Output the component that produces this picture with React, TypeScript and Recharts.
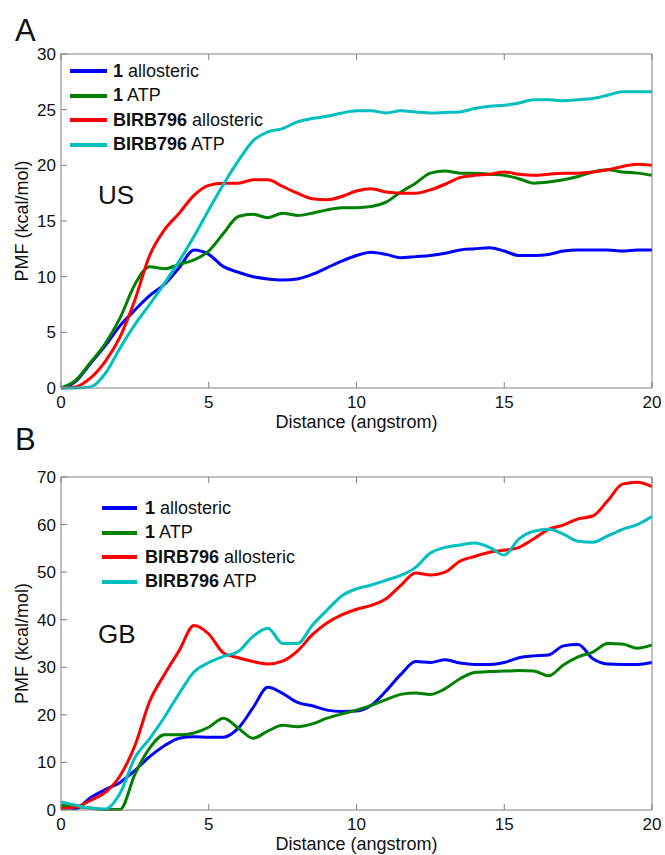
import React from 'react';
import { LineChart, Line, XAxis, YAxis, Legend, Label } from 'recharts';

// ---------- data ----------
const distance = [0, 0.5, 1, 1.5, 2, 2.5, 3, 3.5, 4, 4.5, 5, 5.5, 6, 6.5, 7, 7.5, 8, 8.5, 9, 9.5, 10, 10.5, 11, 11.5, 12, 12.5, 13, 13.5, 14, 14.5, 15, 15.5, 16, 16.5, 17, 17.5, 18, 18.5, 19, 19.5, 20];

// Panel A (US)
const usAllo1 = [0, 0.6, 2.2, 3.8, 5.6, 7.0, 8.3, 9.3, 10.8, 12.4, 12.0, 10.9, 10.4, 10.0, 9.8, 9.7, 9.8, 10.2, 10.8, 11.4, 11.9, 12.2, 12.0, 11.7, 11.8, 11.9, 12.1, 12.4, 12.5, 12.6, 12.3, 11.9, 11.9, 12.0, 12.3, 12.4, 12.4, 12.4, 12.3, 12.4, 12.4];
const usAtp1 = [0, 0.7, 2.3, 4.0, 6.3, 9.3, 10.9, 10.7, 11.1, 11.5, 12.3, 13.9, 15.4, 15.6, 15.3, 15.7, 15.5, 15.7, 16.0, 16.2, 16.2, 16.3, 16.7, 17.6, 18.4, 19.3, 19.5, 19.3, 19.3, 19.2, 19.1, 18.8, 18.4, 18.5, 18.7, 19.0, 19.4, 19.6, 19.4, 19.3, 19.1];
const usAlloBirb = [0, 0.1, 0.9, 2.4, 4.6, 7.9, 11.9, 14.2, 15.7, 17.3, 18.2, 18.4, 18.4, 18.7, 18.7, 18.1, 17.5, 17.0, 16.9, 17.2, 17.7, 17.9, 17.6, 17.5, 17.5, 17.8, 18.3, 18.9, 19.1, 19.2, 19.4, 19.2, 19.1, 19.2, 19.3, 19.3, 19.4, 19.6, 19.9, 20.1, 20.0];
const usAtpBirb = [0, 0, 0.1, 1.3, 3.6, 5.7, 7.5, 9.4, 11.4, 13.6, 16.0, 18.3, 20.4, 22.2, 23.0, 23.3, 23.9, 24.2, 24.4, 24.7, 24.9, 24.9, 24.7, 24.9, 24.8, 24.7, 24.75, 24.8, 25.1, 25.3, 25.4, 25.6, 25.9, 25.9, 25.8, 25.9, 26.0, 26.3, 26.6, 26.6, 26.6];

// Panel B (GB)
const gbAllo1 = [0.5, 0.3, 2.6, 4.3, 5.8, 8.3, 11.2, 13.5, 15.1, 15.4, 15.3, 15.3, 17.2, 21.5, 25.8, 24.5, 22.6, 21.9, 21.0, 20.7, 20.8, 22.0, 25.0, 28.5, 31.2, 31.0, 31.6, 30.9, 30.6, 30.6, 31.0, 32.0, 32.4, 32.6, 34.5, 34.8, 31.8, 30.7, 30.6, 30.6, 31.0];
const gbAtp1 = [1.0, 0.7, 0.4, 0.1, 0.1, 7.5, 13.0, 15.8, 15.8, 16.2, 17.4, 19.3, 17.2, 15.1, 16.6, 17.8, 17.5, 18.1, 19.3, 20.2, 21.0, 22.0, 23.2, 24.3, 24.6, 24.3, 25.5, 27.6, 28.9, 29.1, 29.2, 29.3, 29.2, 28.2, 30.5, 32.2, 33.2, 35.0, 34.9, 34.0, 34.7];
const gbAlloBirb = [0.3, 0.6, 2.0, 3.7, 7.2, 13.5, 22.8, 28.5, 33.5, 38.8, 37.0, 33.0, 32.0, 31.2, 30.7, 31.3, 33.4, 36.8, 39.3, 41.0, 42.2, 43.0, 44.4, 47.2, 49.8, 49.4, 50.0, 52.3, 53.3, 54.2, 54.6, 55.2, 57.0, 59.0, 59.9, 61.2, 61.8, 65.0, 68.5, 68.9, 68.0];
const gbAtpBirb = [1.7, 1.0, 0.4, 0.2, 3.5, 11.0, 15.0, 19.5, 24.5, 29.0, 31.0, 32.3, 33.3, 36.5, 38.2, 35.0, 35.0, 38.8, 42.0, 45.0, 46.5, 47.3, 48.3, 49.3, 51.0, 54.0, 55.2, 55.7, 56.1, 55.2, 53.6, 57.0, 58.6, 59.0, 58.0, 56.5, 56.3, 57.6, 59.0, 60.0, 61.7];

const X_TICKS = [0, 5, 10, 15, 20];
const US_TICKS = [0, 5, 10, 15, 20, 25, 30];
const GB_TICKS = [0, 10, 20, 30, 40, 50, 60, 70];

const SERIES = [
  { key: 'allo1', bold: '1', rest: 'allosteric', color: '#0000ff' },
  { key: 'atp1', bold: '1', rest: 'ATP', color: '#008000' },
  { key: 'alloBirb', bold: 'BIRB796', rest: 'allosteric', color: '#ff0000' },
  { key: 'atpBirb', bold: 'BIRB796', rest: 'ATP', color: '#00bfbf' },
];

const usData = distance.map((d, i) => ({ d, allo1: usAllo1[i], atp1: usAtp1[i], alloBirb: usAlloBirb[i], atpBirb: usAtpBirb[i] }));
const gbData = distance.map((d, i) => ({ d, allo1: gbAllo1[i], atp1: gbAtp1[i], alloBirb: gbAlloBirb[i], atpBirb: gbAtpBirb[i] }));

// ---------- styling ----------
const FONT = '"Liberation Sans", Arial, Helvetica, sans-serif';
const AXIS = '#808080';
const TICK_LINE = { stroke: AXIS, strokeWidth: 1 };

const BottomTick = (p: any) => (
  <text x={p.x} y={p.y + 16} textAnchor="middle" fontSize={17} fontFamily={FONT} fill="#111">{p.payload.value}</text>
);
const LeftTick = (p: any) => (
  <text x={p.x} y={p.y + 6} textAnchor="end" fontSize={17} fontFamily={FONT} fill="#111">{p.payload.value}</text>
);
const NoTick = () => <g />;

const XTitle = (p: any) => {
  const vb = p.viewBox;
  return (
    <text x={vb.x + vb.width / 2} y={vb.y + 40} textAnchor="middle" fontSize={18} fontFamily={FONT} fill="#111">Distance (angstrom)</text>
  );
};
const YTitle = (p: any) => {
  const vb = p.viewBox;
  const cx = 28;
  const cy = vb.y + vb.height / 2;
  return (
    <text x={cx} y={cy} transform={`rotate(-90 ${cx} ${cy})`} textAnchor="middle" fontSize={18} fontFamily={FONT} fill="#111">PMF (kcal/mol)</text>
  );
};

const makeLegend = (lineW: number, gap: number) => () => (
  <div style={{ fontFamily: FONT, fontSize: 18, color: '#111' }}>
    {SERIES.map((s) => (
      <div key={s.key} style={{ display: 'flex', alignItems: 'center', height: 24.5, whiteSpace: 'nowrap' }}>
        <div style={{ width: lineW, height: 4, background: s.color, marginRight: gap }} />
        <span><b>{s.bold}</b> {s.rest}</span>
      </div>
    ))}
  </div>
);

type PanelProps = {
  data: any[];
  yMax: number;
  yTicks: number[];
  height: number;
  margin: { top: number; right: number; bottom: number; left: number };
  legendLeft: number;
  legendTop: number;
  lineW: number;
  gap: number;
};

function Panel({ data, yMax, yTicks, height, margin, legendLeft, legendTop, lineW, gap }: PanelProps) {
  return (
    <LineChart width={665} height={height} data={data} margin={margin}>
      <XAxis dataKey="d" type="number" domain={[0, 20]} ticks={X_TICKS} tick={BottomTick} tickLine={TICK_LINE} tickSize={-6} tickMargin={10} height={30} stroke={AXIS} interval={0}>
        <Label content={XTitle} />
      </XAxis>
      <XAxis xAxisId="top" orientation="top" dataKey="d" type="number" domain={[0, 20]} ticks={X_TICKS} tick={NoTick} tickLine={TICK_LINE} tickSize={-6} tickMargin={0} height={1} stroke={AXIS} interval={0} />
      <YAxis type="number" domain={[0, yMax]} ticks={yTicks} tick={LeftTick} tickLine={TICK_LINE} tickSize={-6} tickMargin={11} width={61} stroke={AXIS} interval={0}>
        <Label content={YTitle} />
      </YAxis>
      <YAxis yAxisId="right" orientation="right" type="number" domain={[0, yMax]} ticks={yTicks} tick={NoTick} tickLine={TICK_LINE} tickSize={-6} tickMargin={0} width={1} stroke={AXIS} interval={0} />
      <Legend layout="vertical" align="center" verticalAlign="middle" content={makeLegend(lineW, gap)} wrapperStyle={{ left: legendLeft, top: legendTop, width: 'auto' }} />
      {SERIES.map((s) => (
        <Line key={s.key} dataKey={s.key} name={`${s.bold} ${s.rest}`} type="monotone" stroke={s.color} strokeWidth={3} dot={false} activeDot={false} isAnimationActive={false} />
      ))}
    </LineChart>
  );
}

const bigLabel: React.CSSProperties = { position: 'absolute', fontFamily: FONT, color: '#111', lineHeight: 1, whiteSpace: 'nowrap' };

export default function App() {
  return (
    <div style={{ position: 'absolute', left: 0, top: 0, width: 665, height: 855, background: '#fff' }}>
      <div style={{ position: 'absolute', left: 0, top: 0 }}>
        <Panel data={usData} yMax={30} yTicks={US_TICKS} height={432} margin={{ top: 53, right: 12, bottom: 14, left: 0 }} legendLeft={70} legendTop={59} lineW={37} gap={6} />
      </div>
      <div style={{ position: 'absolute', left: 0, top: 432 }}>
        <Panel data={gbData} yMax={70} yTicks={GB_TICKS} height={423} margin={{ top: 44, right: 12, bottom: 15, left: 0 }} legendLeft={102} legendTop={64} lineW={35} gap={8} />
      </div>
      <div style={{ ...bigLabel, left: 15, top: 15, fontSize: 31 }}>A</div>
      <div style={{ ...bigLabel, left: 15, top: 424, fontSize: 31 }}>B</div>
      <div style={{ ...bigLabel, left: 98, top: 182, fontSize: 26 }}>US</div>
      <div style={{ ...bigLabel, left: 98, top: 621, fontSize: 26 }}>GB</div>
    </div>
  );
}
